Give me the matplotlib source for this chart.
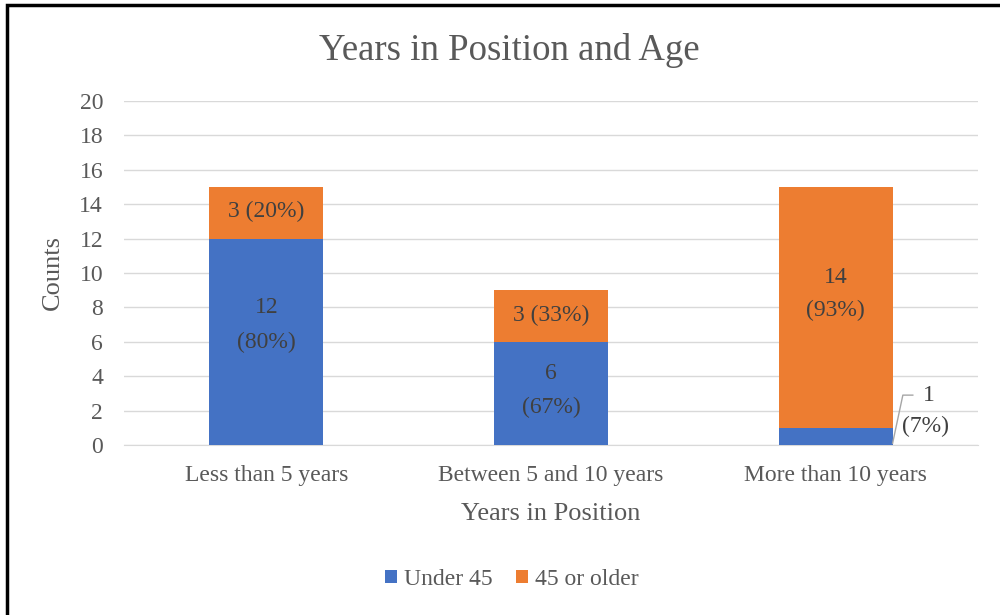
import numpy as np
import matplotlib.pyplot as plt
from matplotlib.patches import Rectangle

plt.rcParams['font.family'] = ['Liberation Serif', 'DejaVu Serif']

categories = ['Less than 5 years', 'Between 5 and 10 years', 'More than 10 years']
under45 = [12, 6, 1]
older45 = [3, 3, 14]
pct_under = [80, 67, 7]
pct_older = [20, 33, 93]

blue = '#4472C4'
orange = '#ED7D31'
txt = '#595959'
lbl = '#404040'

fig = plt.figure(figsize=(10, 6.15), dpi=100)
ax = fig.add_axes([0.124, 0.2764, 0.854, 0.5594])

x = np.arange(len(categories))
w = 0.4
ax.bar(x, under45, w, color=blue, label='Under 45', zorder=3)
ax.bar(x, older45, w, bottom=under45, color=orange, label='45 or older', zorder=3)

fs = 17
# under 45 labels (two lines, value above percent)
for i in range(2):
    mid = under45[i] / 2
    nudge = 0.98 if i == 0 else 0.17
    ax.text(x[i], mid + nudge + 0.99, str(under45[i]), ha='center', va='center', fontsize=fs, color=lbl, zorder=4)
    ax.text(x[i], mid + nudge - 0.99, '(%d%%)' % pct_under[i], ha='center', va='center', fontsize=fs, color=lbl, zorder=4)
# 45 or older labels
for i in range(2):
    mid = under45[i] + older45[i] / 2
    ax.text(x[i], mid + 0.05, '%d (%d%%)' % (older45[i], pct_older[i]), ha='center', va='center',
            fontsize=fs, color=lbl, zorder=4)
mid = under45[2] + older45[2] / 2
ax.text(x[2], mid + 0.78 + 0.93, str(older45[2]), ha='center', va='center', fontsize=fs, color=lbl, zorder=4)
ax.text(x[2], mid + 0.78 - 0.93, '(%d%%)' % pct_older[2], ha='center', va='center', fontsize=fs, color=lbl, zorder=4)

# leader line for the small segment
ax.plot([x[2] + w / 2, x[2] + 0.236, x[2] + 0.271], [under45[2] * 0.1, 2.9, 2.9],
        color='#A6A6A6', lw=1, zorder=4, clip_on=False)
ax.text(x[2] + 0.327, 2.9, str(under45[2]), ha='center', va='center', fontsize=fs, color=lbl)
ax.text(x[2] + 0.315, 1.05, '(%d%%)' % pct_under[2], ha='center', va='center', fontsize=fs, color=lbl)

ax.set_xlim(-0.5, 2.5)
ax.set_ylim(0, 20)
ax.set_yticks(range(0, 21, 2))
ax.set_xticks(x)
ax.set_xticklabels(categories)
ax.yaxis.grid(True, color='#D9D9D9', lw=1, zorder=0)
for s in ['top', 'right', 'left']:
    ax.spines[s].set_visible(False)
ax.spines['bottom'].set_color('#D9D9D9')
ax.tick_params(axis='both', length=0, labelsize=17, labelcolor=txt)
ax.tick_params(axis='x', pad=14.5)
ax.tick_params(axis='y', pad=15)

ax.set_ylabel('Counts', fontsize=19, color=txt, labelpad=11)
ax.set_xlabel('Years in Position', fontsize=19, color=txt, labelpad=12)
fig.text(0.509, 0.918, 'Years in Position and Age', ha='center', va='center',
         fontsize=26.5, color=txt)

fig.legend(loc='center', bbox_to_anchor=(0.512, 0.058), ncol=2, frameon=False,
           fontsize=17, labelcolor=txt, handlelength=0.5, handleheight=0.5,
           handletextpad=0.3, columnspacing=1.0)

fig.patches.append(Rectangle((0.007, -0.1), 1.1, 1.092, transform=fig.transFigure,
                             fill=False, edgecolor='black', lw=2.5))

fig.savefig('out.png', dpi=100)
